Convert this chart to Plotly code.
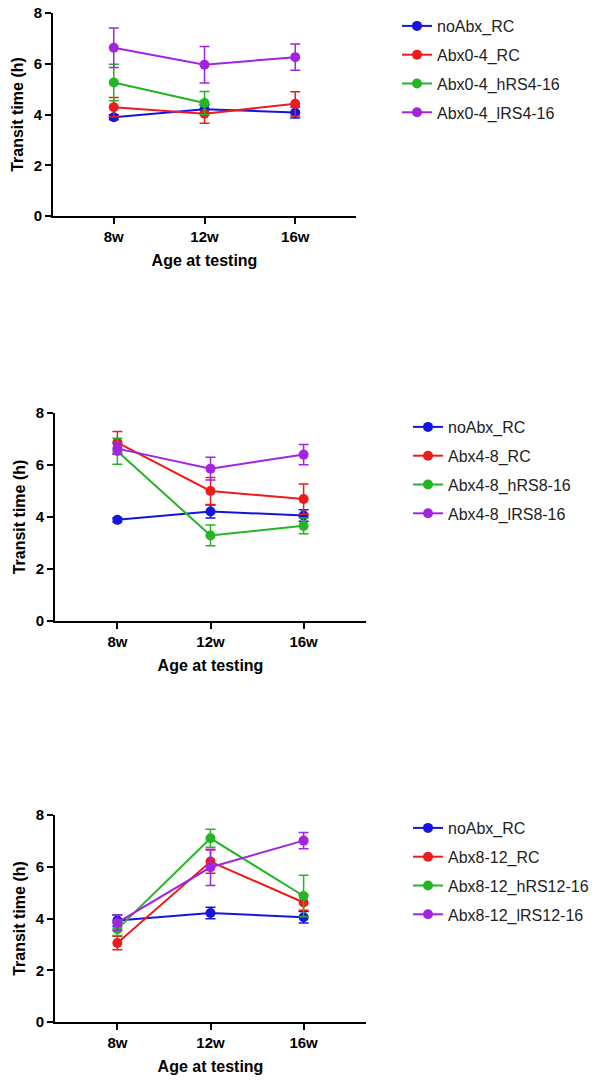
import plotly.graph_objects as go

ages = ["8w", "12w", "16w"]
xpos = [0, 1, 2]
y_ticks = [0, 2, 4, 6, 8]

colors = ["#1515e0", "#ec1c1c", "#23b523", "#a224e0"]

# Panel 1
p1_names = ["noAbx_RC", "Abx0-4_RC", "Abx0-4_hRS4-16", "Abx0-4_lRS4-16"]
p1_means = [[3.89, 4.21, 4.08], [4.29, 4.03, 4.42], [5.26, 4.45, None], [6.63, 5.96, 6.26]]
p1_err = [[0.10, 0.15, 0.22], [0.38, 0.37, 0.48], [0.72, 0.46, None], [0.78, 0.72, 0.52]]

# Panel 2
p2_names = ["noAbx_RC", "Abx4-8_RC", "Abx4-8_hRS8-16", "Abx4-8_lRS8-16"]
p2_means = [[3.89, 4.21, 4.06], [6.86, 5.0, 4.69], [6.53, 3.29, 3.66], [6.63, 5.86, 6.40]]
p2_err = [[0.08, 0.25, 0.22], [0.43, 0.52, 0.58], [0.50, 0.40, 0.30], [0.22, 0.44, 0.39]]

# Panel 3
p3_names = ["noAbx_RC", "Abx8-12_RC", "Abx8-12_hRS12-16", "Abx8-12_lRS12-16"]
p3_means = [[3.92, 4.21, 4.05], [3.05, 6.20, 4.62], [3.59, 7.10, 4.87], [3.84, 5.98, 7.01]]
p3_err = [[0.22, 0.22, 0.22], [0.26, 0.45, 0.30], [0.25, 0.35, 0.80], [0.30, 0.70, 0.31]]

panels = [
    (p1_names, p1_means, p1_err),
    (p2_names, p2_means, p2_err),
    (p3_names, p3_means, p3_err),
]

W, H = 596, 1080
# pixel geometry (x_left, x_right, y_top(8), y_bottom(0)), legend (left, top)
geom = [
    (53, 356, 13, 216, 397, 9),
    (55, 366, 413, 621, 408, 410),
    (55, 366, 815, 1022, 408, 811),
]

fig = go.Figure()
FONT = "Liberation Sans, Arial, sans-serif"

for i, (names, means, errs) in enumerate(panels):
    sfx = "" if i == 0 else str(i + 1)
    for j in range(4):
        fig.add_trace(go.Scatter(
            x=xpos, y=means[j], name=names[j],
            mode="lines+markers",
            line=dict(color=colors[j], width=2),
            marker=dict(color=colors[j], size=10),
            error_y=dict(type="data", array=errs[j], visible=True,
                         color=colors[j], thickness=1.5, width=5),
            xaxis="x" + sfx, yaxis="y" + sfx,
            legend="legend" + sfx, legendgroup=f"g{i}_{j}",
            connectgaps=False,
        ))
    xl, xr, yt, yb, lx, ly = geom[i]
    xa = dict(
        domain=[xl / W, xr / W], range=[-0.67, 2.67],
        tickvals=xpos, ticktext=ages, anchor="y" + sfx,
        showline=True, linecolor="black", linewidth=2,
        ticks="outside", ticklen=6, tickwidth=2, tickcolor="black",
        showgrid=False, zeroline=False, automargin=False,
        tickfont=dict(family=FONT, size=15, color="black", weight="bold"),
        title=dict(text="<b>Age at testing</b>", standoff=11,
                   font=dict(family=FONT, size=16, color="black")),
        fixedrange=True,
    )
    ya = dict(
        domain=[1 - yb / H, 1 - yt / H], range=[0, 8],
        tickvals=y_ticks, anchor="x" + sfx,
        showline=True, linecolor="black", linewidth=2,
        ticks="outside", ticklen=6, tickwidth=2, tickcolor="black",
        showgrid=False, zeroline=False, automargin=False,
        tickfont=dict(family=FONT, size=15, color="black", weight="bold"),
        title=dict(text="<b>Transit time (h)</b>", standoff=6,
                   font=dict(family=FONT, size=16, color="black")),
        fixedrange=True,
    )
    fig.update_layout(**{"xaxis" + sfx: xa, "yaxis" + sfx: ya})
    fig.update_layout(**{"legend" + sfx: dict(
        x=lx / W, y=1 - ly / H, xanchor="left", yanchor="top",
        font=dict(family=FONT, size=16, color="#222"),
        tracegroupgap=5, bgcolor="rgba(0,0,0,0)",
    )})

fig.update_layout(
    width=W, height=H, margin=dict(l=0, r=0, t=0, b=0),
    plot_bgcolor="white", paper_bgcolor="white",
    showlegend=True,
)

fig.write_html("out.html")
